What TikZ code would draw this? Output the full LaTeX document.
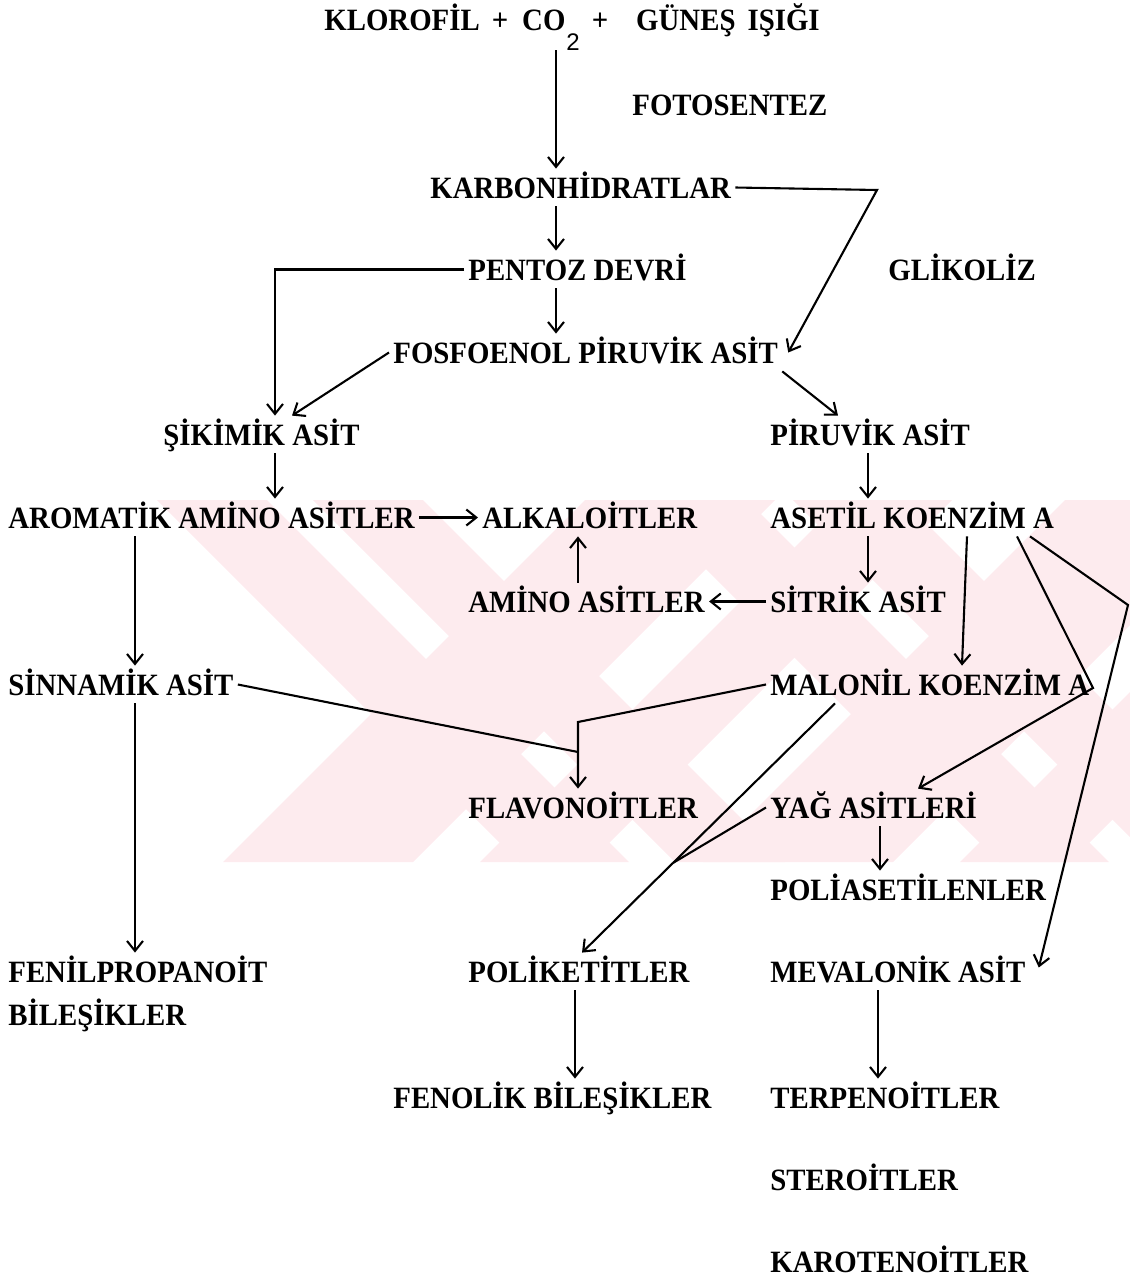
\documentclass[tikz,border=0pt]{standalone}
\usepackage{fontspec}
\setmainfont{Liberation Serif}[FakeStretch=0.93]
\setsansfont{Liberation Sans}
\usetikzlibrary{arrows.meta,calc}
\definecolor{wm}{RGB}{253,235,238}
\tikzset{
  lbl/.style={font=\bfseries\fontsize{15.5}{18}\selectfont, anchor=base west,
    inner xsep=2pt, inner ysep=4pt, text height=10.5pt, text depth=0pt},
  conn/.style={line width=1.05pt},
  arr/.style={conn, -{Straight Barb[length=5pt,width=8pt,line width=1.05pt]}},
  band/.style={fill=wm, draw=none}
}
\begin{document}
\begin{tikzpicture}[x=0.5pt,y=-0.5pt]
\useasboundingbox (0,0) rectangle (1130,1281);
% watermark
\begin{scope}
\clip (150,500) rectangle (1130,862);
\foreach \a in {157,313,637,793}{
  \fill[band] (\a,500) -- (\a+110,500) -- (\a+472,862) -- (\a+362,862) -- cycle;}
\foreach \b/\w in {223/190,480/110,703/190,960/110}{
  \fill[band] (\b,862) -- (\b+\w,862) -- (\b+\w+362,500) -- (\b+362,500) -- cycle;}
\end{scope}
% nodes
\node[lbl] (top) at (320,30) {KLOROFİL\hspace{6pt}+\hspace{7pt}CO\hspace{0.5pt}\raisebox{-10pt}{\mdseries\sffamily\fontsize{12}{12}\selectfont 2}\hspace{6pt}+\hspace{14pt}GÜNEŞ\hspace{6pt}IŞIĞI};
\node[lbl] (foto) at (628,115) {FOTOSENTEZ};
\node[lbl] (karb) at (426,198) {KARBONHİDRATLAR};
\node[lbl] (pentoz) at (464,280) {PENTOZ DEVRİ};
\node[lbl] (glik) at (884,280) {GLİKOLİZ};
\node[lbl] (fpa) at (389,363) {FOSFOENOL PİRUVİK ASİT};
\node[lbl] (sikimik) at (159,445) {ŞİKİMİK ASİT};
\node[lbl] (piruvik) at (766,445) {PİRUVİK ASİT};
\node[lbl] (arom) at (4,528) {AROMATİK AMİNO ASİTLER};
\node[lbl] (alk) at (478,528) {ALKALOİTLER};
\node[lbl] (asetil) at (766,528) {ASETİL KOENZİM A};
\node[lbl] (amino) at (464,612) {AMİNO ASİTLER};
\node[lbl] (sitrik) at (766,612) {SİTRİK ASİT};
\node[lbl] (sinn) at (4,695) {SİNNAMİK ASİT};
\node[lbl] (malonil) at (766,695) {MALONİL KOENZİM A};
\node[lbl] (flav) at (464,818) {FLAVONOİTLER};
\node[lbl] (yag) at (766,818) {YAĞ ASİTLERİ};
\node[lbl] (polias) at (766,900) {POLİASETİLENLER};
\node[lbl] (fenil) at (4,982) {FENİLPROPANOİT};
\node[lbl] (fenil2) at (4,1025) {BİLEŞİKLER};
\node[lbl] (polik) at (464,982) {POLİKETİTLER};
\node[lbl] (meval) at (766,982) {MEVALONİK ASİT};
\node[lbl] (fenol) at (389,1108) {FENOLİK BİLEŞİKLER};
\node[lbl] (terp) at (766,1108) {TERPENOİTLER};
\node[lbl] (steroit) at (766,1190) {STEROİTLER};
\node[lbl] (karot) at (766,1272) {KAROTENOİTLER};
% column coordinates
\coordinate (c556) at (556,0);
\coordinate (c275) at (275,0);
\coordinate (c292) at (292,0);
\coordinate (c838) at (838,0);
\coordinate (c868) at (868,0);
\coordinate (c578) at (578,0);
\coordinate (c967) at (967,0);
\coordinate (c962) at (962,0);
\coordinate (c135) at (135,0);
\coordinate (c1017) at (1017,0);
\coordinate (c1030) at (1030,0);
\coordinate (c918) at (918,0);
\coordinate (c835) at (835,0);
\coordinate (c582) at (582,0);
\coordinate (c880) at (880,0);
\coordinate (c575) at (575,0);
\coordinate (c878) at (878,0);
\coordinate (k1) at (877,190);
\coordinate (j1) at (1093,688);
\coordinate (j2) at (1128,605);
\coordinate (jf1) at (578,722);
\coordinate (jf2) at (578,752);
% connectors
\draw[arr] ([yshift=-6pt]top.south -| c556) -- (karb.north -| c556);
\draw[arr] (karb.south -| c556) -- (pentoz.north -| c556);
\draw[arr] (karb.east) -- (k1) -- ([xshift=3pt]fpa.east);
\draw[arr] (pentoz.west) -| (sikimik.north -| c275);
\draw[arr] (pentoz.south -| c556) -- (fpa.north -| c556);
\draw[arr] (fpa.west) -- (sikimik.north -| c292);
\draw[arr] (fpa.south east) -- (piruvik.north -| c838);
\draw[arr] (sikimik.south -| c275) -- (arom.north -| c275);
\draw[arr] (piruvik.south -| c868) -- (asetil.north -| c868);
\draw[arr] (arom.east) -- (alk.west);
\draw[arr] (amino.north -| c578) -- (alk.south -| c578);
\draw[arr] (sitrik.west) -- (amino.east);
\draw[arr] (asetil.south -| c868) -- (sitrik.north -| c868);
\draw[arr] (asetil.south -| c967) -- (malonil.north -| c962);
\draw[arr] (arom.south -| c135) -- (sinn.north -| c135);
\draw[arr] (asetil.south -| c1017) -- (j1) -- (yag.north -| c918);
\draw[arr] (asetil.south -| c1030) -- (j2) -- ($(meval.east)+(9,-4)$);
\draw[conn] (sinn.east) -- (jf2);
\draw[arr] (malonil.west) -- (jf1) -- (flav.north -| c578);
\coordinate (ms) at (malonil.south -| c835);
\coordinate (pe) at (polik.north -| c582);
\draw[arr] (ms) -- (pe);
\draw[conn] (yag.west) -- ($(ms)!0.64!(pe)$);
\draw[arr] (yag.south -| c880) -- (polias.north -| c880);
\draw[arr] (sinn.south -| c135) -- (fenil.north -| c135);
\draw[arr] (polik.south -| c575) -- (fenol.north -| c575);
\draw[arr] (meval.south -| c878) -- (terp.north -| c878);
\end{tikzpicture}
\end{document}
